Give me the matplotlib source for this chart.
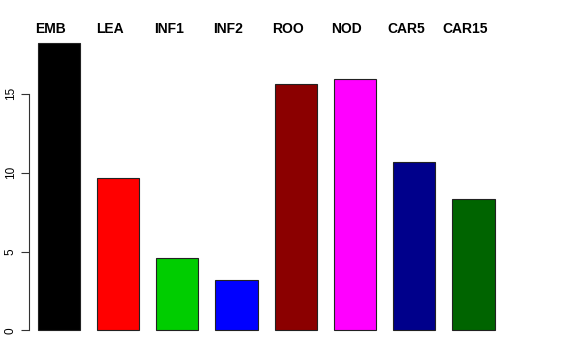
import matplotlib
matplotlib.use("Agg")
import matplotlib.pyplot as plt
import numpy as np

# tissue names and values
tissues = ["EMB", "LEA", "INF1", "INF2", "ROO", "NOD", "CAR5", "CAR15"]
values = [18.25, 9.68, 4.62, 3.17, 15.65, 15.93, 10.65, 8.35]
colors = ["#000000", "#FF0000", "#00CD00", "#0000FF",
          "#8B0000", "#FF00FF", "#00008B", "#006400"]
yticks = [0, 5, 10, 15]

fig = plt.figure(figsize=(5.76, 3.6), dpi=100)
ax = fig.add_axes([19.4 / 576, 18 / 360, 493.4 / 576, 311 / 360])

# R barplot layout: width 1, space 0.4
x = 0.9 + 1.4 * np.arange(len(values))
ax.bar(x, values, width=1.0, color=colors, edgecolor="#222222", linewidth=0.8)

ymax = max(values)
ax.set_ylim(-0.04 * ymax, 1.04 * ymax)
lo, hi = 0.4, x[-1] + 0.5
ext = 0.04 * (hi - lo)
ax.set_xlim(lo - ext, hi + ext)

for s in ["top", "right", "bottom"]:
    ax.spines[s].set_visible(False)
ax.spines["left"].set_position(("axes", 9.9 / 493.4))
ax.spines["left"].set_bounds(0, 15)
ax.spines["left"].set_linewidth(0.8)
ax.spines["left"].set_color("#333333")
ax.set_xticks([])
ax.set_yticks(yticks)
ax.set_yticklabels([str(t) for t in yticks], rotation=90, va="center",
                   fontsize=8.5, family="Liberation Sans")
ax.tick_params(axis="y", length=6, width=0.8, color="#333333", pad=3)

for xi, name in zip(x, tissues):
    ax.text(xi - 0.19, 1.0 + 2.0 / 311, name, transform=ax.get_xaxis_transform(),
            ha="center", va="center", fontsize=10, fontweight="bold",
            family="Liberation Sans")

fig.savefig("out.png", dpi=100)
